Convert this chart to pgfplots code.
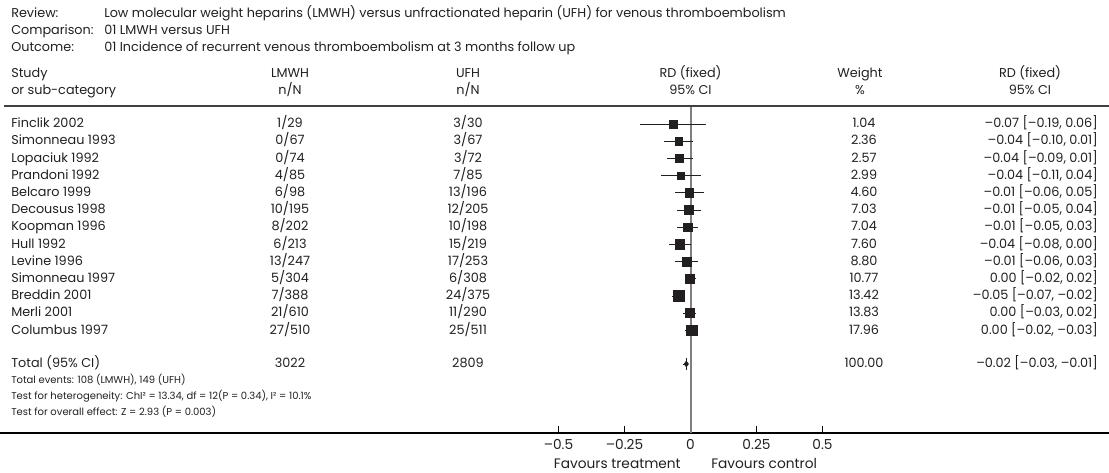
\documentclass[border=0pt]{standalone}
\usepackage{pgfplots}
\pgfplotsset{compat=1.18}
\usepackage{pgfplotstable}
\usepackage{fontspec}
\setmainfont{Poppins}
\definecolor{txt}{HTML}{231F20}
\definecolor{zline}{HTML}{7F7F7F}
\definecolor{rule}{HTML}{404040}

% RD (fixed) per study: row position (px from top, negative), estimate, CI half-widths, marker size
\pgfplotstableread{
y      x       em      ep      s
-124.0 -0.0655 0.1245  0.1255  3.0
-141.2 -0.0448 0.0552  0.0548  2.9
-158.4 -0.0417 0.0483  0.0517  2.9
-175.6 -0.0353 0.0747  0.0753  2.6
-192.8 -0.0051 0.0549  0.0551  3.25
-210.0 -0.0073 0.0427  0.0473  3.25
-227.2 -0.0109 0.0391  0.0409  3.25
-244.4 -0.0403 0.0397  0.0403  3.5
-261.6 -0.0146 0.0454  0.0446  3.5
-278.8 -0.0030 0.0170  0.0230  3.2
-296.0 -0.0460 0.0240  0.0260  4.1
-313.2 -0.0035 0.0265  0.0235  3.4
-330.4  0.0040 0.0240  0.0260  3.9
}\studies

\pgfplotstableread{
y      x       em      ep
-364.0 -0.0160 0.0140  0.0060
}\total

\newcommand\rowfont{\fontsize{9.6}{11.5}\selectfont}
\newcommand\studyrow[6]{%
  \node[anchor=mid west] at (11,#1) {#2};
  \node[anchor=mid] at (290,#1) {#3};
  \node[anchor=mid] at (468,#1) {#4};
  \node[anchor=mid] at (864,#1) {#5};
  \node[anchor=mid east] at (1098,#1) {#6};}

\begin{document}
\begin{tikzpicture}[x=0.75pt,y=-0.75pt,font=\rowfont,text=txt,inner sep=0pt]
\useasboundingbox (0,0) rectangle (1109,473);

\begin{axis}[
  at={(0pt,-324.75pt)}, anchor=south west,
  scale only axis, width=831.75pt, height=324.75pt,
  xmin=-2.6155, xmax=1.5852, ymin=-433, ymax=0,
  axis x line*=bottom, axis y line=none,
  axis line style={line width=0.9pt, black},
  xtick={-0.5,-0.25,0,0.25,0.5},
  xticklabels={–0.5,–0.25,0,0.25,0.5},
  tick align=inside, major tick length=5pt,
  tick style={line width=0.8pt, black},
  xticklabel style={font=\fontsize{10.3}{12}\selectfont, text=txt,
    inner sep=0pt, anchor=mid, yshift=-9.75pt},
  clip=false,
]
\draw[zline, line width=1.5pt] (axis cs:0,-106) -- (axis cs:0,-433);
\addplot[scatter, only marks, mark=square*,
  scatter/use mapped color={draw=txt, fill=txt},
  visualization depends on={\thisrow{s} \as \msize},
  scatter/@pre marker code/.append style={/tikz/mark size=\msize pt},
  error bars/.cd, x dir=both, x explicit, error mark=none,
  error bar style={line width=0.7pt, txt}]
  table[x=x, y=y, x error minus=em, x error plus=ep] {\studies};
\addplot[only marks, mark=|, mark size=4.7pt, color=txt, line width=0.8pt,
  error bars/.cd, x dir=both, x explicit, error mark=none,
  error bar style={line width=0.7pt, txt}]
  table[x=x, y=y, x error minus=em, x error plus=ep] {\total};
\addplot[only marks, mark=diamond*, mark size=2.2pt, color=txt]
  table[x=x, y=y] {\total};
\end{axis}

% header
\node[anchor=mid west] at (11,14) {Review:};
\node[anchor=mid west] at (104,14) {Low molecular weight heparins (LMWH) versus unfractionated heparin (UFH) for venous thromboembolism};
\node[anchor=mid west] at (11,31) {Comparison:};
\node[anchor=mid west] at (104,31) {01 LMWH versus UFH};
\node[anchor=mid west] at (11,48) {Outcome:};
\node[anchor=mid west] at (104,48) {01 Incidence of recurrent venous thromboembolism at 3 months follow up};

\node[anchor=mid west] at (11,74) {Study};
\node[anchor=mid west] at (11,91) {or sub-category};
\node[anchor=mid] at (290,74) {LMWH};
\node[anchor=mid] at (290,91) {n/N};
\node[anchor=mid] at (468,74) {UFH};
\node[anchor=mid] at (468,91) {n/N};
\node[anchor=mid] at (690.5,74) {RD (fixed)};
\node[anchor=mid] at (690.5,91) {95\% CI};
\node[anchor=mid] at (860,74) {Weight};
\node[anchor=mid] at (860,91) {\%};
\node[anchor=mid] at (1030,74) {RD (fixed)};
\node[anchor=mid] at (1030,91) {95\% CI};
\draw[rule, line width=1.1pt] (4,106) -- (1109,106);

% studies
\studyrow{124}{Finclik 2002}{1/29}{3/30}{1.04}{–0.07 [–0.19, 0.06]}
\studyrow{141.2}{Simonneau 1993}{0/67}{3/67}{2.36}{–0.04 [–0.10, 0.01]}
\studyrow{158.4}{Lopaciuk 1992}{0/74}{3/72}{2.57}{–0.04 [–0.09, 0.01]}
\studyrow{175.6}{Prandoni 1992}{4/85}{7/85}{2.99}{–0.04 [–0.11, 0.04]}
\studyrow{192.8}{Belcaro 1999}{6/98}{13/196}{4.60}{–0.01 [–0.06, 0.05]}
\studyrow{210}{Decousus 1998}{10/195}{12/205}{7.03}{–0.01 [–0.05, 0.04]}
\studyrow{227.2}{Koopman 1996}{8/202}{10/198}{7.04}{–0.01 [–0.05, 0.03]}
\studyrow{244.4}{Hull 1992}{6/213}{15/219}{7.60}{–0.04 [–0.08, 0.00]}
\studyrow{261.6}{Levine 1996}{13/247}{17/253}{8.80}{–0.01 [–0.06, 0.03]}
\studyrow{278.8}{Simonneau 1997}{5/304}{6/308}{10.77}{0.00 [–0.02, 0.02]}
\studyrow{296}{Breddin 2001}{7/388}{24/375}{13.42}{–0.05 [–0.07, –0.02]}
\studyrow{313.2}{Merli 2001}{21/610}{11/290}{13.83}{0.00 [–0.03, 0.02]}
\studyrow{330.4}{Columbus 1997}{27/510}{25/511}{17.96}{0.00 [–0.02, –0.03]}
\studyrow{364}{Total (95\% CI)}{3022}{2809}{100.00}{–0.02 [–0.03, –0.01]}

% footer
\begin{scope}[font=\fontsize{7.5}{9}\selectfont]
\node[anchor=mid west] at (11,380) {Total events: 108 (LMWH), 149 (UFH)};
\node[anchor=mid west] at (11,396) {Test for heterogeneity: ChI² = 13.34, df = 12(P = 0.34), I² = 10.1\%};
\node[anchor=mid west] at (11,412) {Test for overall effect: Z = 2.93 (P = 0.003)};
\end{scope}

\node[anchor=mid east, font=\fontsize{10.3}{12}\selectfont] at (681,465) {Favours treatment};
\node[anchor=mid west, font=\fontsize{10.3}{12}\selectfont] at (711,465) {Favours control};
\end{tikzpicture}
\end{document}
